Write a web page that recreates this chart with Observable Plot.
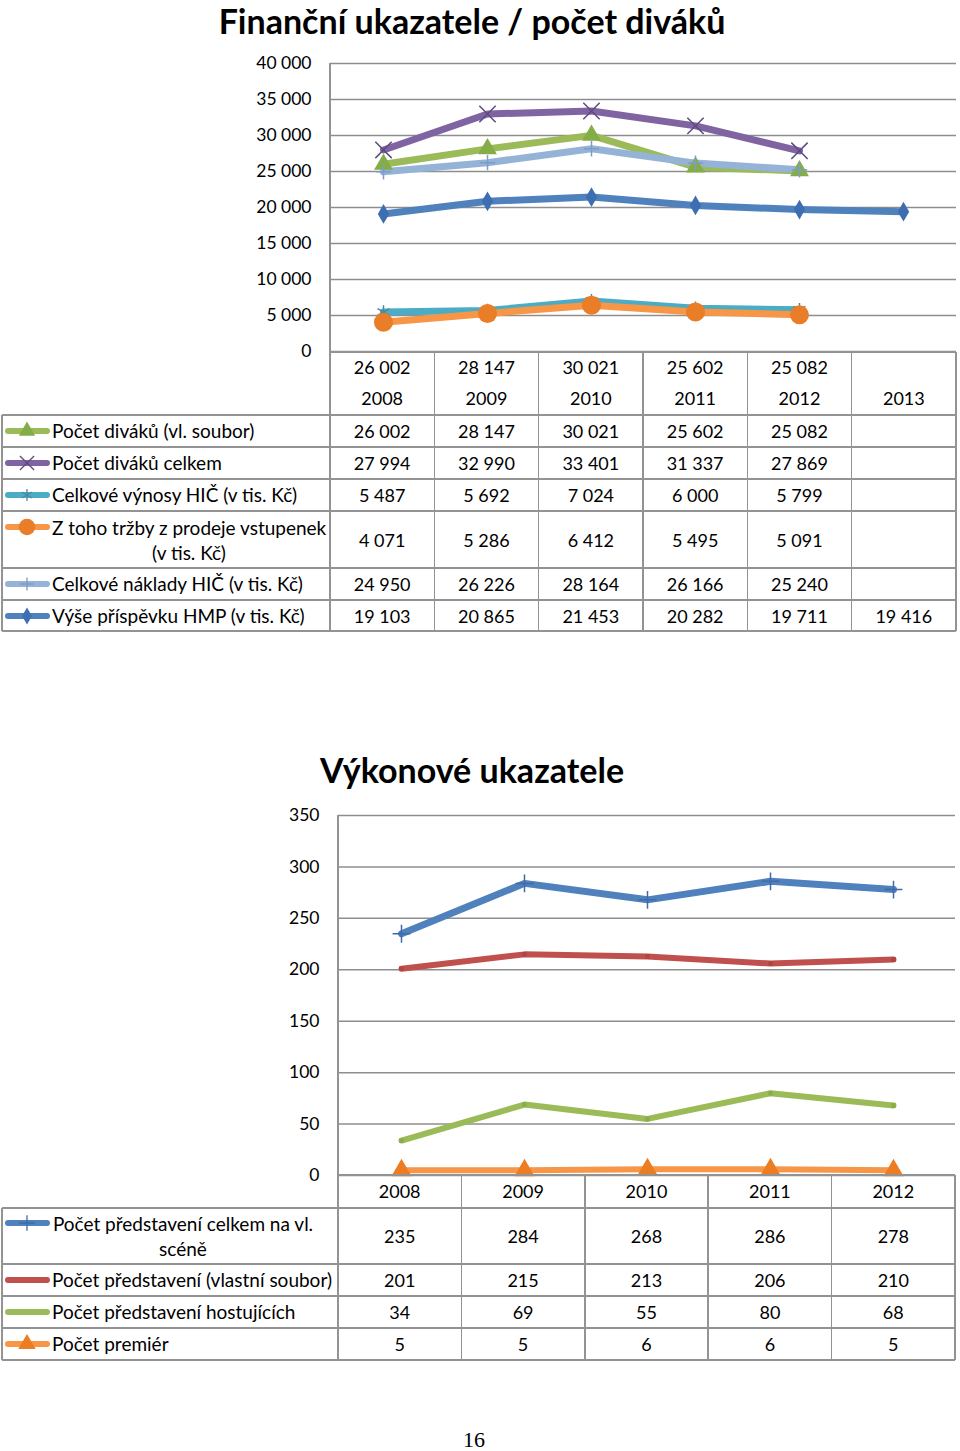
<!DOCTYPE html>
<html><head><meta charset="utf-8">
<script src="https://cdn.jsdelivr.net/npm/d3@7"></script>
<script src="https://cdn.jsdelivr.net/npm/@observablehq/plot@0.6"></script>
<style>
body{margin:0;background:#fff;}
#page{position:relative;width:960px;height:1451px;font-family:Lato,"Open Sans",sans-serif;color:#000;overflow:hidden;background:#fff;}
.abs{position:absolute;}
.ln{position:absolute;background:#939393;}
.t{position:absolute;white-space:nowrap;font-size:18px;line-height:22px;}
.lab{font-size:19px;}
.c{transform:translate(-50%,-50%);}
.l{transform:translateY(-50%);}
</style></head><body><div id="page"></div>
<script>
// ---------- data: chart 1 ----------
const years1 = ["2008","2009","2010","2011","2012","2013"];
const labels1 = ["Počet diváků (vl. soubor)","Počet diváků celkem","Celkové výnosy HIČ (v tis. Kč)","Z toho tržby z prodeje vstupenek|(v tis. Kč)","Celkové náklady HIČ (v tis. Kč)","Výše příspěvku HMP (v tis. Kč)"];
const divakySoubor = [26002,28147,30021,25602,25082,null];
const divakyCelkem = [27994,32990,33401,31337,27869,null];
const vynosy       = [5487,5692,7024,6000,5799,null];
const trzby        = [4071,5286,6412,5495,5091,null];
const naklady      = [24950,26226,28164,26166,25240,null];
const prispevek    = [19103,20865,21453,20282,19711,19416];
const yTicks1 = [0,5000,10000,15000,20000,25000,30000,35000,40000];

// ---------- data: chart 2 ----------
const years2 = ["2008","2009","2010","2011","2012"];
const labels2 = ["Počet představení celkem na vl.|scéně","Počet představení (vlastní soubor)","Počet představení hostujících","Počet premiér"];
const predCelkem  = [235,284,268,286,278];
const predVlastni = [201,215,213,206,210];
const predHost    = [34,69,55,80,68];
const premiery    = [5,5,6,6,5];
const yTicks2 = [0,50,100,150,200,250,300,350];

const fmt = v => v == null ? "" : d3.format(",")(v).replace(/,/g, " ");

const series1 = [
  {vals: divakySoubor, color:"#9bbb59", sym:"triangle", r:7, mfill:"#85ad47", mstroke:null},
  {vals: divakyCelkem, color:"#8064a2", sym:"times", r:7.5, mfill:null, mstroke:"#5d4a80"},
  {vals: vynosy,       color:"#4bacc6", sym:"asterisk", r:6.5, mfill:null, mstroke:"#4a8aa0"},
  {vals: trzby,        color:"#f79646", sym:"circle", r:9.5, mfill:"#ea7d27", mstroke:null},
  {vals: naklady,      color:"#95b3d7", sym:"plus", r:5, mfill:null, mstroke:"#7d9cc6"},
  {vals: prispevek,    color:"#4f81bd", sym:"diamond", r:6, mfill:"#3d6eb2", mstroke:null}
];
const series2 = [
  {vals: predCelkem,  color:"#4f81bd", sym:"plus", r:5.8, mfill:null, mstroke:"#3d6ca8", w:7},
  {vals: predVlastni, color:"#c0504d", sym:"square", r:2.6, mfill:"#b04643", mstroke:null, w:6},
  {vals: predHost,    color:"#9bbb59", sym:"square", r:2.6, mfill:"#8aac4a", mstroke:null, w:6},
  {vals: premiery,    color:"#f79646", sym:"triangle", r:7.5, mfill:"#ec7d22", mstroke:null, w:6}
];

const page = document.getElementById("page");

function addPlot(svg, top){ const d = document.createElement("div"); d.className="abs"; d.style.left="0px"; d.style.top=top+"px"; d.appendChild(svg); page.appendChild(d); }
function hline(x1,x2,y){ const d=document.createElement("div"); d.className="ln"; d.style.left=x1+"px"; d.style.top=(y-0.75)+"px"; d.style.width=(x2-x1)+"px"; d.style.height="1.5px"; page.appendChild(d); }
function vline(x,y1,y2){ const d=document.createElement("div"); d.className="ln"; d.style.left=(x-0.75)+"px"; d.style.top=y1+"px"; d.style.width="1.5px"; d.style.height=(y2-y1)+"px"; page.appendChild(d); }
function text(s,x,y,cls,extra){ const d=document.createElement("div"); d.className="t "+cls; d.style.left=x+"px"; d.style.top=y+"px"; if(extra) Object.assign(d.style, extra); d.innerHTML=s; page.appendChild(d); return d; }

function seriesData(s, years){ return s.vals.map((v,i)=>({year:years[i], value:v})).filter(d=>d.value!=null); }

function chartMarks(series, years, lw){
  const marks = [];
  series.forEach(s=>{
    const data = seriesData(s, years);
    marks.push(Plot.line(data,{x:"year",y:"value",stroke:s.color,strokeWidth:s.w||lw,strokeLinejoin:"round",strokeLinecap:"round"}));
  });
  series.forEach(s=>{
    const data = seriesData(s, years);
    if (s.mfill) marks.push(Plot.dot(data,{x:"year",y:"value",symbol:s.sym,r:s.r,fill:s.mfill,stroke:"none"}));
    else marks.push(Plot.dot(data,{x:"year",y:"value",symbol:s.sym,r:s.r,fill:"none",stroke:s.mstroke,strokeWidth:1.5}));
  });
  return marks;
}

// ---------- chart 1 ----------
const p1 = Plot.plot({
  width:960, height:352, marginLeft:330, marginRight:4, marginTop:63, marginBottom:1,
  style:{fontFamily:"Lato, sans-serif", fontSize:"17.5px", color:"#000", background:"transparent", overflow:"visible"},
  x:{type:"point", domain:years1, padding:0.5, axis:null},
  y:{domain:[0,40000], axis:null},
  marks:[
    Plot.ruleY(yTicks1,{stroke:"#8e8e8e",strokeWidth:1.5}),
    Plot.axisY(yTicks1,{tickSize:0, tickPadding:19, tickFormat:fmt, fontSize:17.5, fill:"#000", label:null}),
    ...chartMarks(series1, years1, 7)
  ]
});
addPlot(p1, 0);

// ---------- chart 2 ----------
const p2 = Plot.plot({
  width:960, height:376, marginLeft:338, marginRight:5, marginTop:15, marginBottom:1,
  style:{fontFamily:"Lato, sans-serif", fontSize:"17.5px", color:"#000", background:"transparent", overflow:"visible"},
  x:{type:"point", domain:years2, padding:0.5, axis:null},
  y:{domain:[0,350], axis:null},
  marks:[
    Plot.ruleY(yTicks2,{stroke:"#8e8e8e",strokeWidth:1.5}),
    Plot.axisY(yTicks2,{tickSize:0, tickPadding:19, tickFormat:fmt, fontSize:17.5, fill:"#000", label:null}),
    ...chartMarks(series2, years2, 7)
  ]
});
addPlot(p2, 800);

// ---------- titles ----------
text("Finanční ukazatele / počet diváků", 472, 21, "c", {fontSize:"34px", fontWeight:"bold", lineHeight:"38px"});
text("Výkonové ukazatele", 472, 770, "c", {fontSize:"34px", fontWeight:"bold", lineHeight:"40px"});
text("16", 474, 1440, "c", {fontSize:"22px", fontFamily:"'Liberation Serif', serif"});

// ---------- legend keys ----------
function key(s, cy){
  const svg = d3.create("svg").attr("width",52).attr("height",24).style("position","absolute").style("left","0px").style("top",(cy-12)+"px").style("overflow","visible");
  svg.append("line").attr("x1",8).attr("x2",47).attr("y1",12).attr("y2",12).attr("stroke",s.color).attr("stroke-width",6).attr("stroke-linecap","round");
  const typeMap = {triangle:d3.symbolTriangle, times:d3.symbolTimes, asterisk:d3.symbolAsterisk, circle:d3.symbolCircle, plus:d3.symbolPlus, diamond:d3.symbolDiamond, square:d3.symbolSquare};
  const sz = Math.PI*s.r*s.r*0.75;
  const path = svg.append("path").attr("transform","translate(27,12)").attr("d", d3.symbol(typeMap[s.sym], sz)());
  if (s.mfill) path.attr("fill", s.sym==="square" ? "none" : s.mfill); else path.attr("fill","none").attr("stroke",s.mstroke).attr("stroke-width",1.3);
  page.appendChild(svg.node());
}

// ---------- table 1 ----------
{
  const x0 = 330, x1 = 956, step = (x1-x0)/years1.length;
  const rows = [415,447,479,511,568,600,631];
  const colX = d3.range(1, years1.length).map(i=>x0+i*step);
  hline(x0, x1, 352);
  rows.forEach(y=>hline(2, x1, y));
  vline(2, 415, 631);
  vline(x0, 63, 631);
  colX.forEach(x=>vline(x, 352, 631));
  vline(x1, 352, 631);
  years1.forEach((y,i)=>{
    const cx = x0+(i+0.5)*step;
    text(fmt(divakySoubor[i]), cx, 367, "c");
    text(y, cx, 398, "c");
  });
  const all = [divakySoubor, divakyCelkem, vynosy, trzby, naklady, prispevek];
  all.forEach((vals,r)=>{
    const cy = (rows[r]+rows[r+1])/2;
    vals.forEach((v,i)=>{ if(v!=null) text(fmt(v), x0+(i+0.5)*step, cy, "c"); });
    const lab = labels1[r];
    if (lab.includes("|")) {
      const [a,b] = lab.split("|");
      text(a+"<br>"+b, 52, cy, "l lab", {width:"274px", textAlign:"center", lineHeight:"25px"});
    } else text(lab, 52, cy, "l lab");
    key(series1[r], lab.includes("|") ? cy-13 : cy);
  });
}

// ---------- table 2 ----------
{
  const x0 = 338, x1 = 955, step = (x1-x0)/years2.length;
  const rows = [1208,1264,1296,1328,1360];
  const colX = d3.range(1, years2.length).map(i=>x0+i*step);
  hline(x0, x1, 1175);
  rows.forEach(y=>hline(2, x1, y));
  vline(2, 1208, 1360);
  vline(x0, 815, 1360);
  colX.forEach(x=>vline(x, 1175, 1360));
  vline(x1, 1175, 1360);
  years2.forEach((y,i)=> text(y, x0+(i+0.5)*step, 1191, "c"));
  const all = [predCelkem, predVlastni, predHost, premiery];
  all.forEach((vals,r)=>{
    const cy = (rows[r]+rows[r+1])/2;
    vals.forEach((v,i)=> text(fmt(v), x0+(i+0.5)*step, cy, "c"));
    const lab = labels2[r];
    if (lab.includes("|")) {
      const [a,b] = lab.split("|");
      text(a+"<br>"+b, 52, cy, "l lab", {width:"262px", textAlign:"center", lineHeight:"25px"});
    } else text(lab, 52, cy, "l lab");
    key(series2[r], lab.includes("|") ? cy-13 : cy);
  });
}
</script></body></html>
